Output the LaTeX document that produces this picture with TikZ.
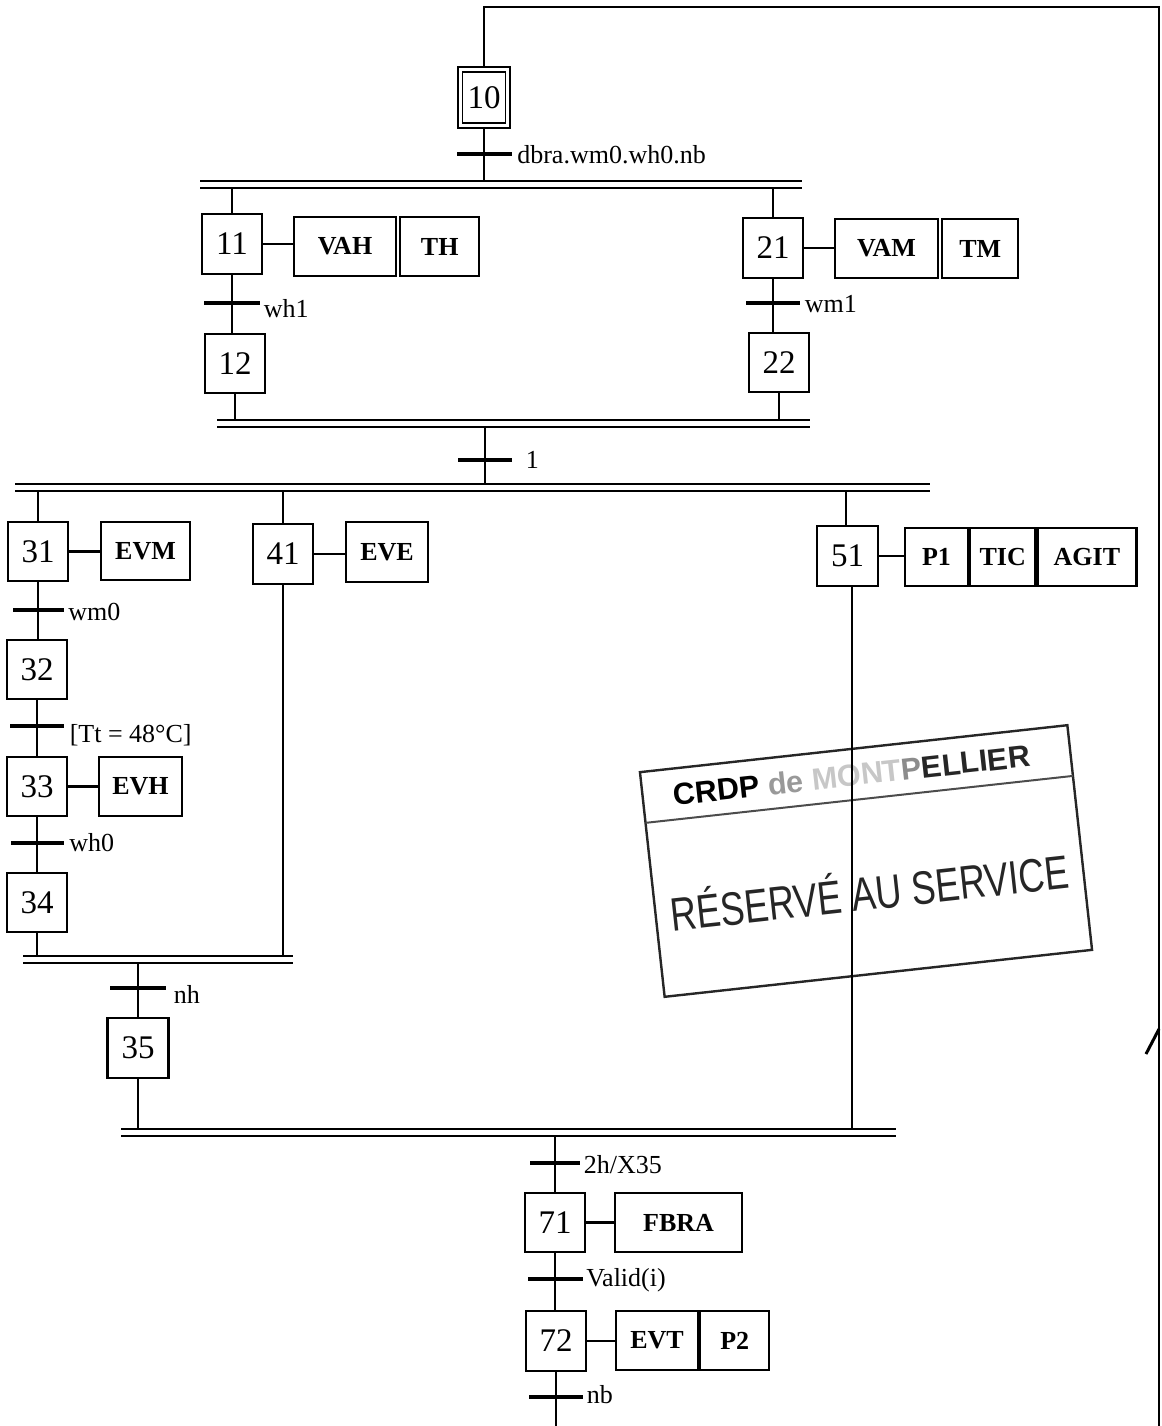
\documentclass[tikz,border=0pt]{standalone}
\usepackage{fontspec}
\setmainfont{Liberation Serif}
\newfontfamily\stampfont{Liberation Sans}
\begin{document}
\begin{tikzpicture}[x=0.5pt,y=-0.5pt,
 stepbox/.style={draw, line width=1.1pt, minimum width=30pt, minimum height=30pt, inner sep=0pt, font=\fontsize{16.5}{16.5}\selectfont},
 actbox/.style={draw, line width=1.1pt, minimum height=29.5pt, inner sep=0pt, font=\bfseries\fontsize{13}{14}\selectfont},
 trbar/.style={fill=black, inner sep=0pt, minimum height=1.6pt, minimum width=#1},
 tlab/.style={anchor=base west, inner sep=0pt, font=\fontsize{13}{13}\selectfont},
 link/.style={line width=1.25pt},
 dbar/.style={line width=1.25pt, double=white, double distance=2.2pt},
 stampline/.style={line width=1.2pt, black!85},
]
\useasboundingbox (0,0) rectangle (1162,1426);

% ---------- stamp ----------
\begin{scope}[shift={(866,861)}, rotate=6.27, transform shape]
 \draw[stampline] (-215,-113) rectangle (215,113);
 \draw[stampline, black!70, line width=1pt] (-215,-62) -- (215,-62);
 \node[inner sep=0pt, font=\stampfont\bfseries\fontsize{15.3}{16}\selectfont] (stamptop) at (-5,-87)
   {CRDP {\color{black!40}de} {\color{black!22}MONT}{\color{black!45}P}{\color{black!85}ELLIER}};
 \node[inner sep=0pt, font=\stampfont\fontsize{23.5}{24}\selectfont, text=black!85] (stampmain) at (0,29)
   {\scalebox{0.77}[1]{RÉSERVÉ AU SERVICE}};
\end{scope}

% ---------- bar coordinates ----------
\coordinate (B1L) at (200,184.5);  \coordinate (B1R) at (802,184.5);
\coordinate (B2L) at (217,423.5);  \coordinate (B2R) at (810,423.5);
\coordinate (B3L) at (15,487.5);   \coordinate (B3R) at (930,487.5);
\coordinate (B4L) at (23,959.5);   \coordinate (B4R) at (293,959.5);
\coordinate (B5L) at (121,1132.5); \coordinate (B5R) at (896,1132.5);

% ---------- steps ----------
\node[stepbox, minimum width=26pt, minimum height=30.5pt, line width=0.9pt] (s10) at (484,97.5) {};
\node[draw, line width=0.9pt, minimum width=21.5pt, minimum height=25.5pt, inner sep=0pt, font=\fontsize{16.5}{16.5}\selectfont] (s10i) at (s10) {10};

\node[stepbox] (s11) at (232,244) {11};
\node[actbox, minimum width=51pt] (vah) at (345,246.5) {VAH};
\node[actbox, minimum width=39.5pt, anchor=west] (th) at ([xshift=1pt]vah.east) {TH};
\node[stepbox, minimum height=29.5pt] (s12) at (235,363.5) {12};

\node[stepbox] (s21) at (773,248) {21};
\node[actbox, minimum width=51.5pt] (vam) at (886.5,248.5) {VAM};
\node[actbox, minimum width=38pt, anchor=west] (tm) at ([xshift=1pt]vam.east) {TM};
\node[stepbox, minimum height=29.5pt] (s22) at (779,362.5) {22};

\node[stepbox, minimum height=29.5pt] (s31) at (38,551.5) {31};
\node[actbox, minimum width=44.5pt, minimum height=29pt] (evm) at (145.5,551) {EVM};
\node[stepbox, minimum height=29.5pt] (s32) at (37,669.5) {32};
\node[stepbox, minimum height=29.5pt] (s33) at (37,786.5) {33};
\node[actbox, minimum width=41.5pt] (evh) at (140.5,786.5) {EVH};
\node[stepbox, minimum height=29.5pt] (s34) at (37,902.5) {34};

\node[stepbox] (s41) at (283,554) {41};
\node[actbox, minimum width=41pt, minimum height=30pt] (eve) at (387,552) {EVE};

\node[stepbox, minimum width=30.5pt] (s51) at (847.5,556) {51};
\node[actbox, minimum width=31.5pt, minimum height=29pt] (p1) at (936.5,557) {P1};
\node[actbox, minimum width=32.5pt, minimum height=29pt, anchor=west] (tic) at (p1.east) {TIC};
\node[actbox, minimum width=49.5pt, minimum height=29pt, anchor=west] (agit) at (tic.east) {AGIT};

\node[stepbox, minimum width=30.5pt] (s35) at (138,1048) {35};

\node[stepbox, minimum height=29.5pt] (s71) at (555,1222.5) {71};
\node[actbox, minimum width=63.5pt] (fbra) at (678.5,1222.5) {FBRA};
\node[stepbox] (s72) at (556,1341) {72};
\node[actbox, minimum width=41pt] (evt) at (657,1340.5) {EVT};
\node[actbox, minimum width=34.5pt, anchor=west] (p2) at (evt.east) {P2};

% ---------- loop coordinates ----------
\coordinate (lp1) at (484,7);
\coordinate (lp2) at (1159,7);
\coordinate (lp3) at (1159,1426);
\coordinate (ar1) at (1159,1029);
\coordinate (ar2) at (1146,1054);
\coordinate (outB) at (556,1426);

% ---------- links ----------
\draw[link] (s10) -- (lp1) -- (lp2) -- (lp3);
\draw[link, line width=1.5pt] (ar1) -- (ar2);
\draw[link] (s10) -- (s10 |- B1L);

\draw[link] (s11) -- (s11 |- B1L);
\draw[link] (s11.south) -- (s11.south |- s12.north);
\draw[link] (s12) -- (s12 |- B2L);
\draw[link] (s11.east) -- (s11.east -| vah.west);

\draw[link] (s21) -- (s21 |- B1L);
\draw[link] (s21.south) -- (s21.south |- s22.north);
\draw[link] (s22) -- (s22 |- B2L);
\draw[link] (s21.east) -- (s21.east -| vam.west);

\coordinate (j1) at (485,423.5);
\coordinate (j2) at (485,487.5);
\draw[link] (j1) -- (j2);

\draw[link] (s31) -- (s31 |- B3L);
\draw[link] (s31.south) -- (s31.south |- s32.north);
\draw[link] (s32) -- (s33);
\draw[link] (s33) -- (s34);
\draw[link] (s34) -- (s34 |- B4L);
\draw[link] (s31.east) -- (s31.east -| evm.west);
\draw[link] (s33.east) -- (s33.east -| evh.west);

\draw[link] (s41) -- (s41 |- B3L);
\draw[link] (s41) -- (s41 |- B4L);
\draw[link] (s41.east) -- (s41.east -| eve.west);

\draw[link] ([xshift=-0.75pt]s51.north) -- ([xshift=-0.75pt]s51.north |- B3L);
\draw[link] ([xshift=2.25pt]s51.south) -- ([xshift=2.25pt]s51.south |- B5L);
\draw[link] (s51.east) -- (s51.east -| p1.west);

\draw[link] (s35) -- (s35 |- B4L);
\draw[link] (s35) -- (s35 |- B5L);

\draw[link] (s71) -- (s71 |- B5L);
\draw[link] (s71.south) -- (s71.south |- s72.north);
\draw[link] (s72) -- (outB);
\draw[link] (s71.east) -- (s71.east -| fbra.west);
\draw[link] (s72.east) -- (s72.east -| evt.west);

% ---------- double bars ----------
\draw[dbar] (B1L) -- (B1R);
\draw[dbar] (B2L) -- (B2R);
\draw[dbar] (B3L) -- (B3R);
\draw[dbar] (B4L) -- (B4R);
\draw[dbar] (B5L) -- (B5R);

% ---------- transitions ----------
\node[trbar=27.5pt] (t10) at (484,154) {};
\node[tlab] (l10) at ([shift={(5,9)}]t10.east) {dbra.wm0.wh0.nb};
\node[trbar=28pt] (t11) at (232,303) {};
\node[tlab] (l11) at ([shift={(3,14)}]t11.east) {wh1};
\node[trbar=27pt] (t21) at (773,303) {};
\node[tlab] (l21) at ([shift={(4,9)}]t21.east) {wm1};
\node[trbar=27pt] (t1) at (485,460) {};
\node[tlab] (l1) at ([shift={(13,8)}]t1.east) {1};
\node[trbar=25.5pt] (t31) at (38,610) {};
\node[tlab] (l31) at ([shift={(4,10)}]t31.east) {wm0};
\node[trbar=27pt] (t32) at (37,726) {};
\node[tlab] (l32) at ([shift={(5,16)}]t32.east) {[Tt = 48°C]};
\node[trbar=26.5pt] (t33) at (37,843) {};
\node[tlab] (l33) at ([shift={(5,8)}]t33.east) {wh0};
\node[trbar=28pt] (t35) at (138,988) {};
\node[tlab] (l35) at ([shift={(7,15)}]t35.east) {nh};
\node[trbar=25pt] (t5) at (555,1163) {};
\node[tlab] (l5) at ([shift={(3,10)}]t5.east) {2h/X35};
\node[trbar=27.5pt] (t71) at (555,1279) {};
\node[tlab] (l71) at ([shift={(3,7)}]t71.east) {Valid(i)};
\node[trbar=27pt] (t72) at (556,1397) {};
\node[tlab] (l72) at ([shift={(3,6)}]t72.east) {nb};
\end{tikzpicture}
\end{document}
